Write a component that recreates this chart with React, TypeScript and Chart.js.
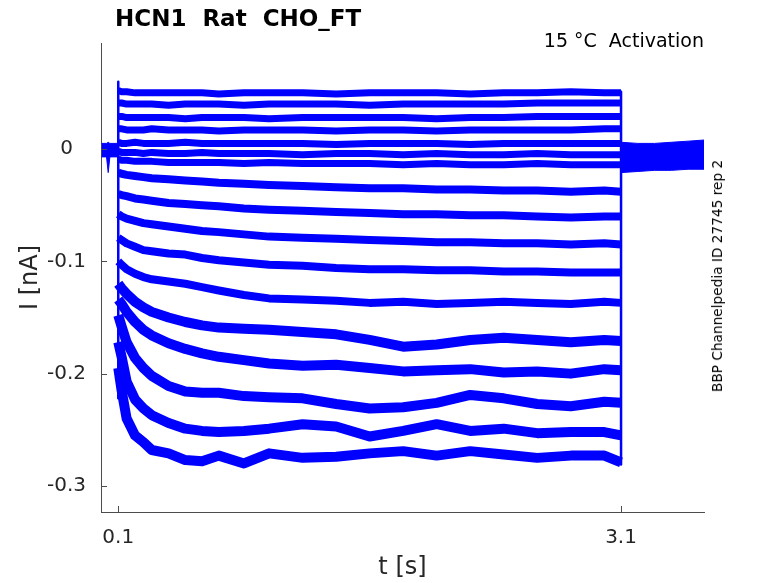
import { useEffect, useRef } from 'react'
import { Chart, registerables } from 'chart.js'

Chart.register(...registerables)

// sample times (s) during the voltage step
const pulseTimes = [0.1, 0.12, 0.15, 0.2, 0.25, 0.3, 0.4, 0.5, 0.6, 0.7, 0.85, 1.0, 1.2, 1.4, 1.6, 1.8, 2.0, 2.2, 2.4, 2.6, 2.8, 3.0, 3.1]

// current (nA) per sweep, top to bottom
const sweep01 = [0.052, 0.051, 0.051, 0.050, 0.050, 0.050, 0.050, 0.050, 0.050, 0.049, 0.050, 0.050, 0.050, 0.049, 0.050, 0.050, 0.050, 0.049, 0.050, 0.050, 0.051, 0.050, 0.050]
const sweep02 = [0.041, 0.041, 0.040, 0.040, 0.040, 0.040, 0.039, 0.040, 0.040, 0.040, 0.039, 0.040, 0.040, 0.040, 0.039, 0.040, 0.040, 0.040, 0.040, 0.041, 0.041, 0.041, 0.041]
const sweep03 = [0.029, 0.029, 0.028, 0.028, 0.028, 0.028, 0.028, 0.027, 0.028, 0.028, 0.028, 0.027, 0.028, 0.028, 0.028, 0.028, 0.027, 0.028, 0.028, 0.029, 0.029, 0.029, 0.029]
const sweep04 = [0.018, 0.018, 0.017, 0.017, 0.017, 0.018, 0.017, 0.017, 0.017, 0.016, 0.017, 0.017, 0.017, 0.016, 0.017, 0.017, 0.016, 0.017, 0.017, 0.017, 0.017, 0.018, 0.018]
const sweep05 = [0.006, 0.005, 0.005, 0.006, 0.005, 0.005, 0.005, 0.006, 0.005, 0.005, 0.005, 0.005, 0.005, 0.004, 0.005, 0.005, 0.005, 0.004, 0.005, 0.005, 0.005, 0.005, 0.005]
const sweep06 = [-0.002, -0.003, -0.003, -0.003, -0.004, -0.003, -0.004, -0.004, -0.003, -0.004, -0.004, -0.004, -0.005, -0.004, -0.004, -0.005, -0.004, -0.005, -0.005, -0.004, -0.005, -0.005, -0.005]
const sweep07 = [-0.009, -0.010, -0.010, -0.011, -0.011, -0.011, -0.012, -0.012, -0.012, -0.012, -0.013, -0.012, -0.013, -0.013, -0.013, -0.014, -0.013, -0.014, -0.014, -0.013, -0.014, -0.014, -0.014]
const sweep08 = [-0.021, -0.022, -0.023, -0.024, -0.025, -0.026, -0.027, -0.028, -0.029, -0.030, -0.031, -0.032, -0.033, -0.034, -0.035, -0.035, -0.036, -0.036, -0.037, -0.037, -0.038, -0.037, -0.038]
const sweep09 = [-0.040, -0.041, -0.042, -0.044, -0.045, -0.046, -0.048, -0.049, -0.050, -0.051, -0.053, -0.054, -0.055, -0.056, -0.057, -0.058, -0.058, -0.059, -0.059, -0.060, -0.061, -0.060, -0.060]
const sweep10 = [-0.058, -0.060, -0.062, -0.064, -0.066, -0.067, -0.069, -0.071, -0.073, -0.074, -0.076, -0.078, -0.079, -0.080, -0.081, -0.082, -0.083, -0.083, -0.084, -0.084, -0.085, -0.084, -0.085]
const sweep11 = [-0.079, -0.081, -0.084, -0.087, -0.090, -0.091, -0.093, -0.094, -0.097, -0.099, -0.101, -0.103, -0.104, -0.106, -0.107, -0.107, -0.108, -0.108, -0.109, -0.109, -0.110, -0.110, -0.110]
const sweep12 = [-0.100, -0.103, -0.107, -0.111, -0.114, -0.116, -0.118, -0.120, -0.123, -0.126, -0.130, -0.133, -0.134, -0.135, -0.137, -0.136, -0.138, -0.137, -0.136, -0.137, -0.138, -0.136, -0.137]
const sweep13 = [-0.120, -0.124, -0.129, -0.136, -0.141, -0.145, -0.150, -0.154, -0.157, -0.159, -0.160, -0.161, -0.163, -0.165, -0.170, -0.176, -0.174, -0.170, -0.168, -0.170, -0.172, -0.170, -0.171]
const sweep14 = [-0.134, -0.138, -0.145, -0.154, -0.161, -0.166, -0.173, -0.178, -0.182, -0.185, -0.188, -0.191, -0.193, -0.192, -0.195, -0.198, -0.197, -0.196, -0.199, -0.198, -0.200, -0.196, -0.197]
const sweep15 = [-0.148, -0.158, -0.172, -0.186, -0.195, -0.202, -0.211, -0.216, -0.217, -0.217, -0.220, -0.221, -0.222, -0.227, -0.231, -0.230, -0.226, -0.219, -0.222, -0.227, -0.229, -0.225, -0.226]
const sweep16 = [-0.172, -0.185, -0.207, -0.223, -0.231, -0.237, -0.244, -0.249, -0.251, -0.252, -0.251, -0.249, -0.245, -0.247, -0.256, -0.251, -0.245, -0.251, -0.249, -0.253, -0.252, -0.252, -0.255]
const sweep17 = [-0.195, -0.215, -0.240, -0.255, -0.261, -0.268, -0.271, -0.277, -0.278, -0.273, -0.280, -0.271, -0.275, -0.274, -0.271, -0.269, -0.273, -0.269, -0.272, -0.275, -0.273, -0.273, -0.279]

const sweeps = [sweep01, sweep02, sweep03, sweep04, sweep05, sweep06, sweep07, sweep08, sweep09,
  sweep10, sweep11, sweep12, sweep13, sweep14, sweep15, sweep16, sweep17]

// capacitive transients at the step edges (nA)
const onsetRange = [0.060, -0.222]
const offsetRange = [0.051, -0.281]

// holding period before the step: noise envelope
const preTimes = [0, 0.03, 0.04, 0.05, 0.1]
const preUpper = [0.005, 0.005, 0.006, 0.005, 0.005]
const preLower = [-0.007, -0.007, -0.021, -0.007, -0.007]

// after the step: noise envelope of all sweeps
const postTimes = [3.1, 3.2, 3.3, 3.4, 3.5, 3.595]
const postUpper = [0.006, 0.005, 0.005, 0.006, 0.007, 0.008]
const postLower = [-0.021, -0.020, -0.019, -0.019, -0.018, -0.018]

const xTicks = [0.1, 3.1]
const xTickLabels = ['0.1', '3.1']
const yTicks = [0, -0.1, -0.2, -0.3]
const yTickLabels = ['0', '-0.1', '-0.2', '-0.3']

const BLUE = 'rgb(0,0,255)'
const AXIS = '#4d4d4d'
const FONT = '"DejaVu Sans", sans-serif'

// MATLAB-style inward tick marks
const innerTicks = {
  id: 'innerTicks',
  afterDraw(chart: any) {
    const { ctx, chartArea, scales } = chart
    ctx.save()
    ctx.strokeStyle = AXIS
    ctx.lineWidth = 1
    ctx.beginPath()
    yTicks.forEach(v => {
      const py = Math.round(scales.y.getPixelForValue(v)) + 0.5
      ctx.moveTo(chartArea.left, py)
      ctx.lineTo(chartArea.left + 6, py)
    })
    xTicks.forEach(v => {
      const px = Math.round(scales.x.getPixelForValue(v)) + 0.5
      ctx.moveTo(px, chartArea.bottom)
      ctx.lineTo(px, chartArea.bottom - 6)
    })
    ctx.stroke()
    ctx.restore()
  },
}

export default function App() {
  const canvasRef = useRef<HTMLCanvasElement>(null)

  useEffect(() => {
    if (!canvasRef.current) return

    const datasets: any[] = []

    const band = (times: number[], upper: number[], lower: number[]) => {
      datasets.push({
        data: times.map((t, i) => ({ x: t, y: upper[i] })),
        borderColor: BLUE,
        borderWidth: 1,
        fill: false,
      })
      datasets.push({
        data: times.map((t, i) => ({ x: t, y: lower[i] })),
        borderColor: BLUE,
        borderWidth: 1,
        backgroundColor: BLUE,
        fill: '-1',
      })
    }
    band(preTimes, preUpper, preLower)
    band(postTimes, postUpper, postLower)

    // thin vertical edges of the step
    datasets.push({ data: onsetRange.map(v => ({ x: 0.1, y: v })), borderColor: BLUE, borderWidth: 2.5, fill: false })
    datasets.push({ data: offsetRange.map(v => ({ x: 3.1, y: v })), borderColor: BLUE, borderWidth: 2.5, fill: false })

    sweeps.forEach((vals, idx) => {
      datasets.push({
        data: pulseTimes.map((t, i) => ({ x: t, y: vals[i] })),
        borderColor: BLUE,
        borderWidth: idx < 7 ? 7 : idx < 12 ? 8 : 10,
        fill: false,
      })
    })

    const chart = new Chart(canvasRef.current, {
      type: 'line',
      data: { datasets },
      plugins: [innerTicks],
      options: {
        animation: false,
        responsive: false,
        maintainAspectRatio: false,
        layout: { padding: { top: 43, right: 74, left: 0, bottom: 0 } },
        elements: { point: { radius: 0 }, line: { tension: 0, borderJoinStyle: 'round' } },
        plugins: { legend: { display: false }, tooltip: { enabled: false }, title: { display: false } },
        scales: {
          x: {
            type: 'linear',
            min: -0.003,
            max: 3.595,
            afterBuildTicks: (scale: any) => { scale.ticks = xTicks.map(v => ({ value: v })) },
            afterFit: (scale: any) => { scale.height = 71 },
            grid: { display: false },
            border: { display: true, color: AXIS, width: 1 },
            ticks: {
              autoSkip: false,
              maxRotation: 0,
              padding: 6,
              color: '#262626',
              font: { family: FONT, size: 20 },
              callback: (v: any) => xTickLabels[xTicks.indexOf(Math.round(Number(v) * 10) / 10)] ?? '',
            },
            title: {
              display: true,
              text: 't [s]',
              color: '#262626',
              font: { family: FONT, size: 24 },
              padding: { top: 0, bottom: 1 },
            },
          },
          y: {
            type: 'linear',
            min: -0.3232,
            max: 0.0944,
            afterBuildTicks: (scale: any) => { scale.ticks = yTicks.map(v => ({ value: v })) },
            afterFit: (scale: any) => { scale.width = 101 },
            grid: { display: false },
            border: { display: true, color: AXIS, width: 1 },
            ticks: {
              autoSkip: false,
              padding: 7,
              crossAlign: 'center',
              color: '#262626',
              font: { family: FONT, size: 20 },
              callback: (v: any) => yTickLabels[yTicks.indexOf(Math.round(Number(v) * 10) / 10)] ?? '',
            },
            title: {
              display: true,
              text: 'I [nA]',
              color: '#262626',
              font: { family: FONT, size: 24 },
              padding: { top: 16, bottom: 0 },
            },
          },
        },
      },
    })

    return () => chart.destroy()
  }, [])

  return (
    <div style={{ position: 'fixed', left: 0, top: 0, width: 778, height: 583, background: '#fff', fontFamily: FONT }}>
      <canvas ref={canvasRef} width={778} height={583} style={{ position: 'absolute', left: 0, top: 0 }} />
      <div style={{ position: 'absolute', left: 115, top: 5, fontSize: 23, lineHeight: '26px', fontWeight: 'bold', whiteSpace: 'pre', color: '#000' }}>
        {'HCN1  Rat  CHO_FT'}
      </div>
      <div style={{ position: 'absolute', right: 74, top: 29, fontSize: 19, lineHeight: '22px', whiteSpace: 'pre', color: '#000' }}>
        {'15 °C  Activation'}
      </div>
      <div style={{ position: 'absolute', left: 717, top: 276, fontSize: 13.7, lineHeight: '16px', whiteSpace: 'nowrap', color: '#000', transform: 'translate(-50%, -50%) rotate(-90deg)' }}>
        BBP Channelpedia ID 27745 rep 2
      </div>
    </div>
  )
}
